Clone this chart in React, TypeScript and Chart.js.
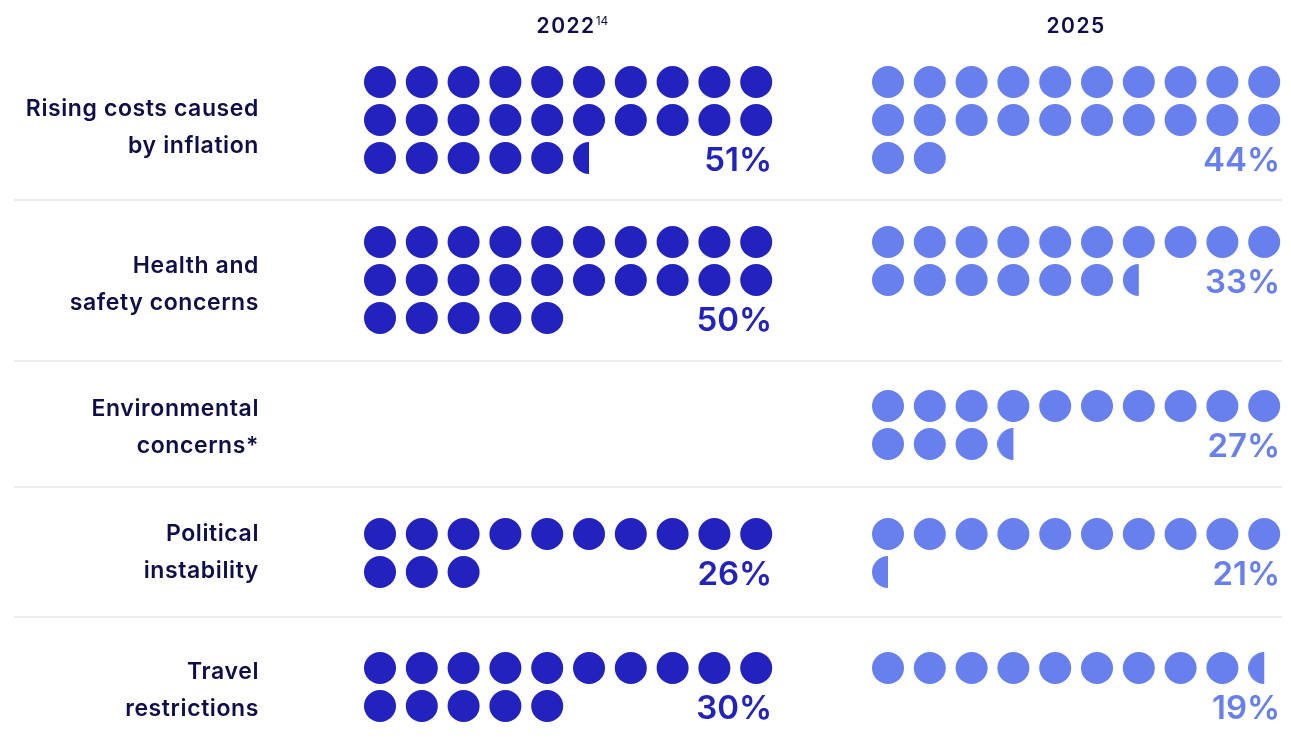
import React, { useEffect, useRef } from "react";
import { Chart, registerables } from "chart.js";

Chart.register(...registerables);

// ---- data ----
const categories: string[][] = [
  ["Rising costs caused", "by inflation"],
  ["Health and", "safety concerns"],
  ["Environmental", "concerns*"],
  ["Political", "instability"],
  ["Travel", "restrictions"],
];
const years = ["2022", "2025"];
const yearNotes = ["14", ""];
const values2022: (number | null)[] = [51, 50, null, 26, 30];
const values2025: (number | null)[] = [44, 33, 27, 21, 19];
const PERCENT_PER_DOT = 2;
const DOTS_PER_ROW = 10;

// ---- layout / style ----
const W = 1291;
const H = 753;
const GROUP_X = [380, 888];
const COL_GAP = 41.8;
const SECTION_Y = [82, 242, 406, 534, 668];
const LABEL_Y = [128, 284.5, 428, 553, 691];
const SEPARATOR_Y = [200, 361, 487, 617];
const ROW_GAP = 38;
const DOT_R = 16;
const COLORS = ["#2222BE", "#6880EE"];
const TEXT = "#0E0E4A";
const FONT = "Inter, 'Open Sans', sans-serif";

function rowsFor(v: number | null) {
  if (v == null) return 0;
  return Math.ceil(v / PERCENT_PER_DOT / DOTS_PER_ROW);
}

function buildPoints(values: (number | null)[], g: number) {
  const full: { x: number; y: number }[] = [];
  const half: { x: number; y: number }[] = [];
  values.forEach((v, s) => {
    if (v == null) return;
    const n = v / PERCENT_PER_DOT;
    const nf = Math.floor(n);
    for (let i = 0; i < nf; i++) {
      full.push({
        x: GROUP_X[g] + (i % DOTS_PER_ROW) * COL_GAP,
        y: SECTION_Y[s] + Math.floor(i / DOTS_PER_ROW) * ROW_GAP,
      });
    }
    if (n - nf >= 0.5) {
      half.push({
        x: GROUP_X[g] + (nf % DOTS_PER_ROW) * COL_GAP,
        y: SECTION_Y[s] + Math.floor(nf / DOTS_PER_ROW) * ROW_GAP,
      });
    }
  });
  return { full, half };
}

function halfDot(color: string) {
  const c = document.createElement("canvas");
  c.width = DOT_R * 2;
  c.height = DOT_R * 2;
  const ctx = c.getContext("2d")!;
  ctx.fillStyle = color;
  ctx.beginPath();
  ctx.moveTo(DOT_R, 0);
  ctx.arc(DOT_R, DOT_R, DOT_R, -Math.PI / 2, Math.PI / 2, true);
  ctx.closePath();
  ctx.fill();
  return c;
}

const textPlugin = {
  id: "dotText",
  afterDatasetsDraw(chart: any) {
    const { ctx } = chart;
    const xs = chart.scales.x;
    const ys = chart.scales.y;
    ctx.save();
    // headers
    years.forEach((yr, g) => {
      const cx = xs.getPixelForValue(GROUP_X[g] + (COL_GAP * (DOTS_PER_ROW - 1)) / 2);
      const cy = ys.getPixelForValue(27);
      ctx.font = `600 21px ${FONT}`;
      (ctx as any).letterSpacing = "1.5px";
      ctx.fillStyle = TEXT;
      ctx.textBaseline = "middle";
      ctx.textAlign = "center";
      const w = ctx.measureText(yr).width;
      const shift = yearNotes[g] ? -2 : 0;
      ctx.fillText(yr, cx + shift, cy);
      if (yearNotes[g]) {
        (ctx as any).letterSpacing = "0px";
        ctx.font = `12px ${FONT}`;
        ctx.textAlign = "left";
        ctx.fillText(yearNotes[g], cx + shift + w / 2, cy - 6);
      }
    });
    // categories & separators
    categories.forEach((lines, s) => {
      ctx.font = `600 23px ${FONT}`;
      (ctx as any).letterSpacing = "0.6px";
      ctx.fillStyle = TEXT;
      ctx.textAlign = "right";
      ctx.textBaseline = "middle";
      const lh = 37;
      lines.forEach((ln, k) => {
        const y = LABEL_Y[s] + (k - (lines.length - 1) / 2) * lh;
        ctx.fillText(ln, xs.getPixelForValue(259), ys.getPixelForValue(y));
      });
      if (s < categories.length - 1) {
        const sy = SEPARATOR_Y[s];
        ctx.strokeStyle = "#EBEBF0";
        ctx.lineWidth = 2;
        ctx.beginPath();
        ctx.moveTo(xs.getPixelForValue(14), ys.getPixelForValue(sy));
        ctx.lineTo(xs.getPixelForValue(1282), ys.getPixelForValue(sy));
        ctx.stroke();
      }
      // percentages
      [values2022, values2025].forEach((vals, g) => {
        const v = vals[s];
        if (v == null) return;
        const row = Math.max(rowsFor(v), 2) - 1;
        const y = SECTION_Y[s] + row * ROW_GAP + 3;
        const right = GROUP_X[g] + COL_GAP * (DOTS_PER_ROW - 1) + DOT_R;
        ctx.font = `600 33px ${FONT}`;
        (ctx as any).letterSpacing = "0px";
        ctx.fillStyle = COLORS[g];
        ctx.textAlign = "right";
        ctx.textBaseline = "middle";
        ctx.fillText(`${v}%`, xs.getPixelForValue(right), ys.getPixelForValue(y));
      });
    });
    ctx.restore();
  },
};

export default function App() {
  const ref = useRef<HTMLCanvasElement>(null);
  useEffect(() => {
    if (!ref.current) return;
    const p22 = buildPoints(values2022, 0);
    const p25 = buildPoints(values2025, 1);
    const ds = (data: any[], color: string, style: any) => ({
      data,
      backgroundColor: color,
      borderWidth: 0,
      pointRadius: DOT_R,
      pointHoverRadius: DOT_R,
      pointStyle: style,
      clip: false,
    });
    const chart = new Chart(ref.current, {
      type: "scatter",
      data: {
        datasets: [
          ds(p22.full, COLORS[0], "circle"),
          ds(p22.half, COLORS[0], halfDot(COLORS[0])),
          ds(p25.full, COLORS[1], "circle"),
          ds(p25.half, COLORS[1], halfDot(COLORS[1])),
        ] as any,
      },
      options: {
        animation: false,
        responsive: false,
        events: [],
        layout: { padding: 0, autoPadding: false },
        plugins: { legend: { display: false }, tooltip: { enabled: false } },
        scales: {
          x: { type: "linear", min: 0, max: W, display: false },
          y: { type: "linear", min: 0, max: H, reverse: true, display: false },
        },
      },
      plugins: [textPlugin],
    });
    return () => chart.destroy();
  }, []);
  return (
    <div style={{ position: "fixed", left: 0, top: 0, width: W, height: H, background: "#fff" }}>
      <canvas ref={ref} width={W} height={H} style={{ width: W, height: H, display: "block" }} />
    </div>
  );
}
